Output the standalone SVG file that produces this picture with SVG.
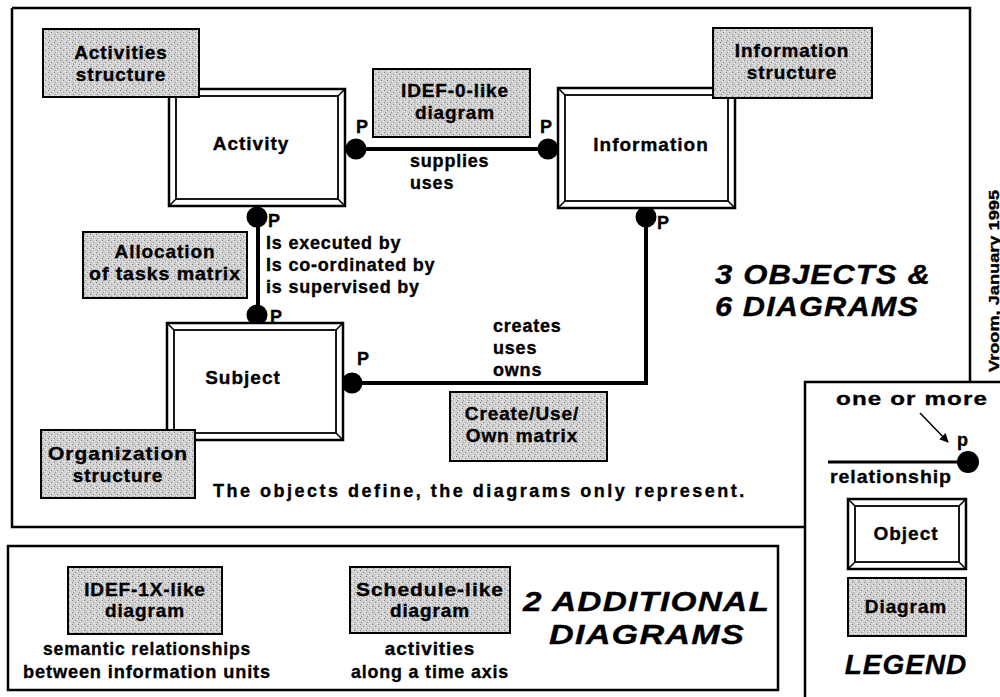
<svg xmlns="http://www.w3.org/2000/svg" width="1000" height="697" viewBox="0 0 1000 697">
  <defs>
    <pattern id="stipple" width="6" height="6" patternUnits="userSpaceOnUse">
      <rect width="6" height="6" fill="#d0d0d0"/>
      <rect x="0" y="0" width="1" height="1" fill="#7a7a7a"/>
      <rect x="3" y="2" width="1" height="1" fill="#8a8a8a"/>
      <rect x="1" y="4" width="1" height="1" fill="#9a9a9a"/>
      <rect x="4" y="5" width="1" height="1" fill="#f4f4f4"/>
      <rect x="5" y="1" width="1" height="1" fill="#f0f0f0"/>
      <rect x="2" y="3" width="1" height="1" fill="#ffffff"/>
    </pattern>
    <marker id="arrow" viewBox="0 0 10 10" refX="9" refY="5" markerWidth="6" markerHeight="6" orient="auto">
      <path d="M0,0 L10,5 L0,10 z" fill="#000"/>
    </marker>
  </defs>
  <style>
    text { font-family: "Liberation Sans", Arial, Helvetica, sans-serif; font-weight: bold; fill: #000; stroke: #000; stroke-width: 0.35px; }
    .lbl { font-size: 19px; text-anchor: middle; letter-spacing: 0.9px; }
    .obj { font-size: 19px; text-anchor: middle; letter-spacing: 1px; }
    .rel { font-size: 18px; letter-spacing: 0.8px; }
    .p { font-size: 18px; }
    .big { font-size: 28px; font-style: italic; letter-spacing: 1px; }
    .frame { fill: none; stroke: #000; stroke-width: 2.5; }
    .diag { fill: url(#stipple); stroke: #000; stroke-width: 2; }
    .outer { fill: #fff; stroke: #000; stroke-width: 2.5; }
    .inner { fill: none; stroke: #000; stroke-width: 1.8; }
    .bevel { stroke: #000; stroke-width: 1.5; }
    .link { fill: none; stroke: #000; stroke-width: 4; }
    .dot { fill: #000; }
  </style>

  <rect width="1000" height="697" fill="#fff"/>

  <!-- frames -->
  <g id="frames">
    <path class="frame" d="M12,8 H970 V382"/>
    <path class="frame" d="M12,8 V527 H805"/>
    <path class="frame" d="M1002,382 H805 V697"/>
    <rect class="frame" x="8" y="546" width="770" height="144"/>
  </g>

  <!-- connectors -->
  <g id="connectors">
    <line class="link" x1="357" y1="149" x2="548" y2="149"/>
    <circle class="dot" cx="356" cy="149" r="10.5"/>
    <circle class="dot" cx="548" cy="149" r="10.5"/>
    <text class="p" x="356" y="133">P</text>
    <text class="p" x="540" y="133">P</text>

    <line class="link" x1="258" y1="217" x2="258" y2="315"/>
    <circle class="dot" cx="257" cy="217" r="10.5"/>
    <circle class="dot" cx="257" cy="315" r="10.5"/>
    <text class="p" x="268" y="227">P</text>
    <text class="p" x="270" y="323">P</text>

    <path class="link" d="M352,383 H646 V217"/>
    <circle class="dot" cx="352" cy="383" r="10.5"/>
    <circle class="dot" cx="646" cy="217" r="10.5"/>
    <text class="p" x="357" y="365">P</text>
    <text class="p" x="657" y="229">P</text>

    <text class="rel" x="410" y="167">supplies</text>
    <text class="rel" x="410" y="189">uses</text>

    <text class="rel" x="266" y="249">Is executed by</text>
    <text class="rel" x="266" y="271">Is co-ordinated by</text>
    <text class="rel" x="266" y="293">is supervised by</text>

    <text class="rel" x="493" y="332">creates</text>
    <text class="rel" x="493" y="354">uses</text>
    <text class="rel" x="493" y="376">owns</text>
  </g>

  <!-- objects -->
  <g id="activity">
    <rect class="outer" x="169" y="89" width="176" height="117"/>
    <rect class="inner" x="176" y="96" width="162" height="103"/>
    <path class="bevel" d="M169,89 L176,96 M345,89 L338,96 M169,206 L176,199 M345,206 L338,199"/>
    <text class="obj" x="251" y="150">Activity</text>
  </g>
  <g id="information">
    <rect class="outer" x="558" y="88" width="177" height="120"/>
    <rect class="inner" x="565" y="95" width="163" height="106"/>
    <path class="bevel" d="M558,88 L565,95 M735,88 L728,95 M558,208 L565,201 M735,208 L728,201"/>
    <text class="obj" x="651" y="151">Information</text>
  </g>
  <g id="subject">
    <rect class="outer" x="167" y="323" width="176" height="117"/>
    <rect class="inner" x="174" y="330" width="162" height="103"/>
    <path class="bevel" d="M167,323 L174,330 M343,323 L336,330 M167,440 L174,433 M343,440 L336,433"/>
    <text class="obj" x="243" y="384">Subject</text>
  </g>

  <!-- diagrams -->
  <g id="activities-structure">
    <rect class="diag" x="43" y="29" width="156" height="68"/>
    <text class="lbl" x="121" y="59">Activities</text>
    <text class="lbl" x="121" y="81">structure</text>
  </g>
  <g id="idef0-diagram">
    <rect class="diag" x="373" y="69" width="157" height="68"/>
    <text class="lbl" x="455" y="97">IDEF-0-like</text>
    <text class="lbl" x="455" y="119">diagram</text>
  </g>
  <g id="information-structure">
    <rect class="diag" x="713" y="28" width="159" height="70"/>
    <text class="lbl" x="792" y="57">Information</text>
    <text class="lbl" x="792" y="79">structure</text>
  </g>
  <g id="allocation-matrix">
    <rect class="diag" x="83" y="232" width="164" height="66"/>
    <text class="lbl" x="165" y="258">Allocation</text>
    <text class="lbl" x="165" y="280" textLength="152" lengthAdjust="spacingAndGlyphs">of tasks matrix</text>
  </g>
  <g id="organization-structure">
    <rect class="diag" x="41" y="430" width="154" height="68"/>
    <text class="lbl" x="118" y="460" textLength="140" lengthAdjust="spacingAndGlyphs">Organization</text>
    <text class="lbl" x="118" y="482">structure</text>
  </g>
  <g id="cuo-matrix">
    <rect class="diag" x="450" y="392" width="157" height="69"/>
    <text class="lbl" x="522" y="420">Create/Use/</text>
    <text class="lbl" x="522" y="442">Own matrix</text>
  </g>

  <text class="rel" x="213" y="497" font-size="19" textLength="532" lengthAdjust="spacing">The objects define, the diagrams only represent.</text>

  <text class="big" x="715" y="284" textLength="216" lengthAdjust="spacingAndGlyphs">3 OBJECTS &amp;</text>
  <text class="big" x="715" y="316" textLength="204" lengthAdjust="spacingAndGlyphs">6 DIAGRAMS</text>

  <!-- additional diagrams -->
  <g id="idef1x-diagram">
    <rect class="diag" x="68" y="567" width="154" height="67"/>
    <text class="lbl" x="145" y="596">IDEF-1X-like</text>
    <text class="lbl" x="145" y="617">diagram</text>
    <text class="lbl" x="147" y="655" textLength="208" lengthAdjust="spacingAndGlyphs">semantic relationships</text>
    <text class="lbl" x="147" y="678" textLength="248" lengthAdjust="spacingAndGlyphs">between information units</text>
  </g>
  <g id="schedule-diagram">
    <rect class="diag" x="350" y="567" width="160" height="66"/>
    <text class="lbl" x="430" y="596" textLength="148" lengthAdjust="spacingAndGlyphs">Schedule-like</text>
    <text class="lbl" x="430" y="617">diagram</text>
    <text class="lbl" x="430" y="655">activities</text>
    <text class="lbl" x="430" y="678" textLength="158" lengthAdjust="spacingAndGlyphs">along a time axis</text>
  </g>
  <text class="big" x="523" y="611" textLength="247" lengthAdjust="spacingAndGlyphs">2 ADDITIONAL</text>
  <text class="big" x="549" y="644" textLength="196" lengthAdjust="spacingAndGlyphs">DIAGRAMS</text>

  <!-- legend -->
  <g id="legend">
    <text class="lbl" x="912" y="405" textLength="152" lengthAdjust="spacingAndGlyphs">one or more</text>
    <line x1="920" y1="413" x2="948" y2="442" stroke="#000" stroke-width="1.5" marker-end="url(#arrow)"/>
    <text class="p" x="957" y="446">p</text>
    <line x1="828" y1="462" x2="962" y2="462" stroke="#000" stroke-width="3"/>
    <circle class="dot" cx="968" cy="462" r="11"/>
    <text class="lbl" x="891" y="483" textLength="122" lengthAdjust="spacingAndGlyphs">relationship</text>
    <g id="legend-object">
      <rect class="outer" x="848" y="499" width="118" height="70"/>
      <rect class="inner" x="855" y="506" width="104" height="56"/>
      <path class="bevel" d="M848,499 L855,506 M966,499 L959,506 M848,569 L855,562 M966,569 L959,562"/>
      <text class="obj" x="906" y="540">Object</text>
    </g>
    <g id="legend-diagram">
      <rect class="diag" x="848" y="578" width="118" height="58"/>
      <text class="lbl" x="906" y="613">Diagram</text>
    </g>
    <text class="big" x="906" y="674" text-anchor="middle">LEGEND</text>
  </g>

  <text transform="translate(999,372) rotate(-90)" font-size="14" stroke-width="0.2" textLength="182" lengthAdjust="spacingAndGlyphs">Vroom, January 1995</text>
</svg>
